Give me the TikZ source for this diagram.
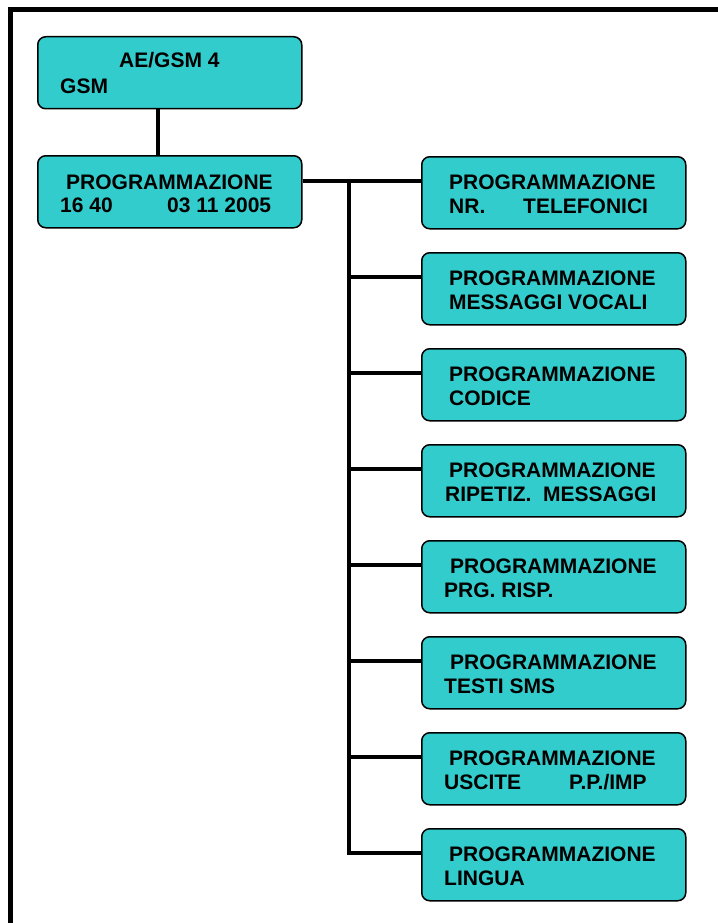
\documentclass[tikz,border=0pt]{standalone}
\usepackage{fontspec}
\setmainfont{Liberation Sans}
\usetikzlibrary{calc}
\definecolor{turq}{HTML}{33CCCC}
\begin{document}
\begin{tikzpicture}[x=1pt,y=-1pt,
  box/.style={draw=black,line width=1.5pt,fill=turq,rounded corners=8pt,
    minimum width=264pt,minimum height=72pt,inner sep=0pt,anchor=north west},
  txt/.style={inner sep=0pt,anchor=base west,font=\fontsize{21}{24}\selectfont\bfseries},
  wire/.style={line width=4.5pt,black},
  frame/.style={line width=5pt,black}]
\useasboundingbox (0,0) rectangle (717,923);
% frame (only top and left edges are visible)
\draw[frame] (10.8,935) -- (10.8,9.8) -- (730,9.8);
% left boxes
\node[box] (t) at (37,36) {};
\node[box] (p) at (37,155) {};
\node[txt] (t1) at ($(t.north west)+(82,32)$) {AE/GSM 4};
\node[txt] (t2) at ($(t.north west)+(23,58)$) {GSM};
\node[txt] (p1) at ($(p.north west)+(29,34)$) {PROGRAMMAZIONE};
\node[txt] (p2) at ($(p.north west)+(23,57)$) {16 40};
\node[txt] (p3) at ($(p.north west)+(130,57)$) {03 11 2005};
% right boxes
\foreach \i in {1,...,8}{
  \node[box] (r\i) at (421,{156+96*(\i-1)}) {};
  \coordinate (k\i) at ($(r\i.north west)+(-72,25)$);
}
\node[txt] at ($(r1.north west)+(28,33)$) {PROGRAMMAZIONE};
\node[txt] at ($(r1.north west)+(28,57)$) {NR.};
\node[txt] at ($(r1.north west)+(102,57)$) {TELEFONICI};
\node[txt] at ($(r2.north west)+(28,33)$) {PROGRAMMAZIONE};
\node[txt] at ($(r2.north west)+(28,57)$) {MESSAGGI VOCALI};
\node[txt] at ($(r3.north west)+(28,33)$) {PROGRAMMAZIONE};
\node[txt] at ($(r3.north west)+(28,57)$) {CODICE};
\node[txt] at ($(r4.north west)+(28,33)$) {PROGRAMMAZIONE};
\node[txt] at ($(r4.north west)+(24,57)$) {RIPETIZ.};
\node[txt] at ($(r4.north west)+(122,57)$) {MESSAGGI};
\node[txt] at ($(r5.north west)+(29,33)$) {PROGRAMMAZIONE};
\node[txt] at ($(r5.north west)+(23,57)$) {PRG. RISP.};
\node[txt] at ($(r6.north west)+(29,33)$) {PROGRAMMAZIONE};
\node[txt] at ($(r6.north west)+(23,57)$) {TESTI SMS};
\node[txt] at ($(r7.north west)+(28,33)$) {PROGRAMMAZIONE};
\node[txt] at ($(r7.north west)+(23,57)$) {USCITE};
\node[txt] at ($(r7.north west)+(148,57)$) {P.P./IMP};
\node[txt] at ($(r8.north west)+(28,33)$) {PROGRAMMAZIONE};
\node[txt] at ($(r8.north west)+(23,57)$) {LINGUA};
% connectors
\draw[wire,line width=4pt] ($(t.south)+(-12,0)$) -- ($(p.north)+(-12,0)$);
\draw[wire,line width=3.5pt] (p.east |- k1) -- (k1);
\draw[wire] (k1) -- (r1.west |- k1);
\draw[wire,line cap=rect] (k1) -- (k8);
\foreach \i in {2,...,8}{
  \draw[wire] (k\i) -- (r\i.west |- k\i);
}
\end{tikzpicture}
\end{document}
